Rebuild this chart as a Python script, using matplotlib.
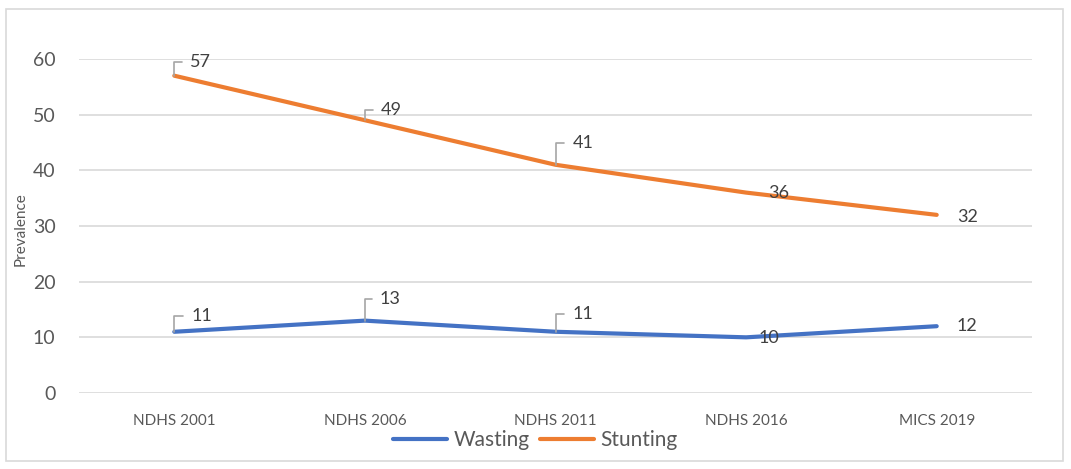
import matplotlib.pyplot as plt
from matplotlib.patches import Rectangle

surveys = ["NDHS 2001", "NDHS 2006", "NDHS 2011", "NDHS 2016", "MICS 2019"]
wasting = [11, 13, 11, 10, 12]
stunting = [57, 49, 41, 36, 32]
yticks = [0, 10, 20, 30, 40, 50, 60]

# label offsets in pixels (dx, dy) and whether a leader line is drawn
stunt_lbl = [(16, 14, True), (16, 10, True), (17, 22, True), (22, 0, False), (20, -2, False)]
waste_lbl = [(17, 16, True), (15, 22, True), (17, 18, True), (12, -1, False), (20, 0, False)]

plt.rcParams['font.family'] = ['Lato', 'DejaVu Sans']
blue = "#4472C4"
orange = "#ED7D31"
txt = "#595959"

fig = plt.figure(figsize=(10.71, 4.69), dpi=100)
fig.patches.append(Rectangle((6 / 1071, 8 / 469), 1057 / 1071, 452 / 469,
                             transform=fig.transFigure, fill=False,
                             edgecolor="#D9D9D9", lw=1.2))
ax = fig.add_axes([79 / 1071, 1 - 393 / 469, 953 / 1071, 334 / 469])

x = range(len(surveys))
lw, = ax.plot(x, wasting, color=blue, lw=3, solid_capstyle="round", label="Wasting", zorder=3)
ls, = ax.plot(x, stunting, color=orange, lw=3, solid_capstyle="round", label="Stunting", zorder=3)

def add_labels(vals, offs):
    for i, (v, (dx, dy, lead)) in enumerate(zip(vals, offs)):
        kw = {}
        if lead:
            kw["arrowprops"] = dict(arrowstyle="-", color="#A6A6A6", lw=1.2,
                                    connectionstyle="angle,angleA=0,angleB=90,rad=0",
                                    shrinkA=4, shrinkB=0)
        ax.annotate(str(v), xy=(i, v), xytext=(dx, dy), textcoords="offset pixels",
                    ha="left", va="center", fontsize=13, color="#404040", zorder=4, **kw)

add_labels(stunting, stunt_lbl)
add_labels(wasting, waste_lbl)

ax.set_xlim(-0.5, 4.5)
ax.set_ylim(0, 60)
ax.set_yticks(yticks)
ax.set_xticks(list(x))
ax.set_xticklabels(surveys)
ax.tick_params(axis="y", labelsize=14, colors=txt, length=0, pad=17)
ax.tick_params(axis="x", labelsize=11, colors=txt, length=0, pad=15)
ax.grid(axis="y", color="#D9D9D9", lw=1.2)
ax.set_axisbelow(True)
for s in ax.spines.values():
    s.set_visible(False)
ax.set_ylabel("Prevalence", fontsize=11, color=txt)
ax.yaxis.set_label_coords(-0.054, 0.49)

fig.legend(handles=[lw, ls], loc="center", bbox_to_anchor=(0.5, 1 - 440 / 469), ncol=2,
           frameon=False, fontsize=15, labelcolor=txt, handlelength=2.6,
           handletextpad=0.3, columnspacing=0.5)

fig.savefig("out.png", dpi=100)
